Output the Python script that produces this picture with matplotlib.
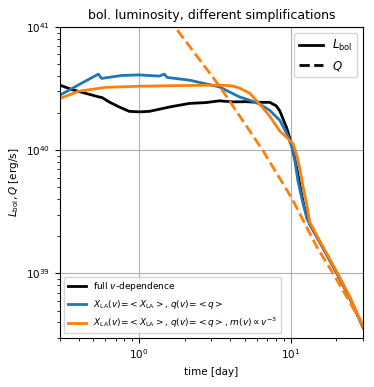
import matplotlib
matplotlib.use('Agg')
import matplotlib.pyplot as plt
from matplotlib.lines import Line2D
import numpy as np

### data (time in day, L in erg/s)

t_full = [0.3, 0.36, 0.467, 0.543, 0.569, 0.633, 0.737, 0.86, 1.0, 1.17, 1.6, 2.14,
          2.77, 3.39, 4.13, 5.0, 6.2, 7.26, 8.0, 8.46, 9.41, 10.16, 10.96, 11.64, 12.19,
          13.36, 15.56, 20.2, 24.6, 30.0]
L_full = [3.38e40, 3.11e40, 2.85e40, 2.71e40, 2.68e40, 2.47e40, 2.25e40, 2.07e40,
          2.05e40, 2.07e40, 2.25e40, 2.40e40, 2.44e40, 2.52e40, 2.47e40, 2.48e40,
          2.45e40, 2.45e40, 2.3e40, 2.09e40, 1.51e40, 1.10e40, 7.1e39, 4.73e39, 3.57e39,
          2.5e39, 1.79e39, 1.0e39, 6.26e38, 3.64e38]

t_avg = [0.3, 0.401, 0.538, 0.566, 0.771, 1.0, 1.357, 1.465, 1.532, 2.143, 3.388,
         4.59, 5.35, 6.23, 7.26, 8.46, 9.55, 10.16, 10.63, 11.13, 11.82, 12.76,
         13.36, 15.56, 20.2, 24.6, 30.0]
L_avg = [2.80e40, 3.41e40, 4.15e40, 3.83e40, 4.05e40, 4.09e40, 4.0e40, 4.15e40,
         3.90e40, 3.71e40, 3.27e40, 2.71e40, 2.55e40, 2.37e40, 2.11e40, 1.75e40,
         1.32e40, 1.06e40, 8.3e39, 5.7e39, 4.07e39, 2.8e39, 2.5e39, 1.79e39,
         1.0e39, 6.26e38, 3.64e38]

t_mv = [0.3, 0.401, 0.601, 1.0, 2.143, 3.388, 4.1, 4.59, 5.35, 6.23, 7.26, 8.46, 9.55,
        10.31, 10.96, 11.47, 12.0, 12.76, 13.36, 15.56, 20.2, 24.6, 30.0]
L_mv = [2.63e40, 3.02e40, 3.24e40, 3.31e40, 3.36e40, 3.38e40, 3.33e40, 3.2e40, 2.91e40,
        2.37e40, 1.89e40, 1.43e40, 1.25e40, 1.14e40, 9.1e39, 7.1e39, 5.19e39,
        3.57e39, 2.6e39, 1.82e39, 1.02e39, 6.4e38, 3.7e38]

t_Q = [1.785, 3.39, 6.53, 10.16, 14.9, 19.0, 29.5, 30.0]
Q = [9.46e40, 3.31e40, 1.0e40, 4.07e39, 1.63e39, 1.0e39, 3.92e38, 3.8e38]

### plot

fig, ax = plt.subplots(figsize=(3.74, 3.87), dpi=100)
fig.subplots_adjust(left=0.160, right=0.971, top=0.930, bottom=0.127)

l1, = ax.plot(t_full, L_full, color='k', lw=2, label='full $v$-dependence')
l2, = ax.plot(t_avg, L_avg, color='C0', lw=2,
              label=r'$X_\mathrm{LA}(v)\!=\!<X_\mathrm{LA}>$, $q(v)\!=\!<q>$')
l3, = ax.plot(t_mv, L_mv, color='C1', lw=2,
              label=r'$X_\mathrm{LA}(v)\!=\!<X_\mathrm{LA}>$, $q(v)\!=\!<q>$, $m(v)\propto v^{-3}$')
ax.plot(t_Q, Q, color='C1', lw=2, ls='--')

ax.set_xscale('log')
ax.set_yscale('log')
ax.set_xlim(0.3, 30)
ax.set_ylim(3e38, 1e41)
ax.grid(True, which='major', color='#b0b0b0', lw=0.8)
ax.set_xlabel('time [day]', fontsize=7.5)
ax.set_ylabel(r'$L_\mathrm{bol}, Q$ [erg/s]', fontsize=7.5)
ax.set_title('bol. luminosity, different simplifications', fontsize=9)
ax.tick_params(labelsize=7.5)

leg1 = ax.legend(handles=[l1, l2, l3], loc='lower left', fontsize=6.5)
ax.add_artist(leg1)
style = [Line2D([], [], color='k', lw=2, ls='-'), Line2D([], [], color='k', lw=2, ls='--')]
ax.legend(style, [r'$L_\mathrm{bol}$', '$Q$'], loc='upper right', fontsize=8.5)

plt.savefig('out.png', dpi=100)
